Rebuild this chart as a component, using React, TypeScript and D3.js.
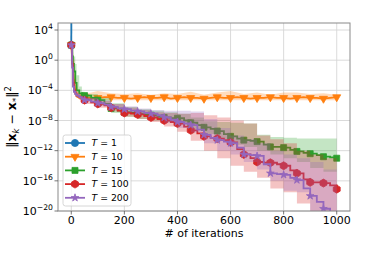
import React from 'react';
import * as d3 from 'd3';

// iterations at which the mean curves are sampled (log10 of ||x_k - x*||^2)
const lineIters = [0, 3, 6, 10, 15, 20, 30, 40, 50, 75, 100, 125, 150, 175, 200, 225, 250, 275, 300, 325, 350, 375, 400, 425, 450, 475, 500, 525, 550, 575, 600, 625, 650, 675, 700, 725, 750, 775, 800, 825, 850, 875, 900, 925, 950, 975, 1000];

const blueIters = [0, 1];
const blueLog = [2, 10];

const orangeLog = [2, 0.5, -1, -2.5, -4.0, -4.8, -5.0, -5.0,
  -4.9, -5.0, -5.0, -4.9, -4.9, -5.0, -5.0, -5.1, -5.0, -4.9,
  -5.0, -5.0, -4.9, -5.1, -5.0, -4.9, -5.0, -5.0, -5.1, -5.0,
  -4.9, -5.0, -5.0, -4.9, -5.0, -5.1, -5.0, -5.0, -4.9, -5.0,
  -5.0, -5.1, -5.0, -4.9, -5.0, -5.0, -5.1, -5.0, -4.9];

const greenLog = [2, 0.5, -0.5, -1.5, -3.0, -4.0, -4.4, -4.6,
  -4.7, -5.0, -5.3, -5.8, -6.4, -6.7, -6.9, -7.0, -7.1, -7.2,
  -7.3, -7.5, -7.6, -7.7, -7.7, -8.0, -8.3, -8.6, -8.9, -9.1,
  -9.4, -9.8, -10.1, -10.4, -10.6, -10.7, -10.8, -11.2, -11.5, -11.5,
  -11.6, -11.9, -12.1, -12.3, -12.4, -12.6, -12.8, -12.9, -13.0];

const redLog = [2, -0.5, -3.0, -4.0, -4.4, -4.7, -4.9, -5.1,
  -5.3, -5.6, -5.8, -6.0, -6.3, -6.7, -7.0, -7.1, -7.2, -7.4,
  -7.6, -7.8, -8.0, -8.2, -8.4, -8.8, -9.3, -9.7, -10.1, -10.3,
  -10.4, -10.6, -10.9, -11.8, -12.5, -13.0, -13.5, -13.6, -13.6, -13.8,
  -14.0, -14.6, -15.0, -15.8, -16.2, -16.2, -16.3, -16.6, -17.1];

const purpleLog = [2, -1.0, -3.5, -4.2, -4.5, -4.7, -4.9, -5.1,
  -5.3, -5.5, -5.7, -5.9, -6.2, -6.4, -6.5, -6.7, -6.8, -7.0,
  -7.1, -7.3, -7.6, -7.9, -8.2, -8.4, -8.6, -9.2, -9.9, -10.3,
  -10.6, -10.8, -11.0, -11.6, -12.5, -12.6, -12.7, -13.8, -15.0, -15.1,
  -15.2, -15.6, -15.9, -17.0, -18.0, -18.8, -19.7, -20.2, -20.5];

// min / max envelopes over runs
const bandIters = [0, 5, 10, 15, 20, 30, 40, 50, 100, 150, 200, 250, 300, 350, 400, 450, 500, 550, 600, 650, 700, 750, 800, 850, 900, 950, 1000];

const orangeLo = [2, 0, -2, -3.5, -4.8, -5.2, -5.3, -5.3, -5.3, -5.3, -5.3, -5.3, -5.3, -5.3, -5.3, -5.3, -5.3, -5.3, -5.3, -5.3, -5.3, -5.3, -5.3, -5.3, -5.3, -5.3, -5.3];
const orangeHi = [2, 1.5, 0.5, -1, -3, -4.3, -4.4, -4.5, -4.1, -4.4, -4.5, -4.4, -4.6, -4.4, -4.5, -4.2, -4.6, -4.3, -4.1, -4.5, -4.3, -4.6, -4.3, -4.3, -4.5, -4.4, -4.6];

const greenLo = [2, 0, -1.5, -3, -4.3, -5, -5.2, -5.3, -6.0, -7.0, -7.5, -7.8, -8.0, -8.2, -8.5, -9.2, -9.8, -10.5, -11.2, -11.5, -12.0, -12.5, -13.0, -13.5, -14.3, -14.8, -15.1];
const greenHi = [2, 1.5, 0.5, -0.5, -2, -3.5, -4.2, -4.5, -5.0, -5.7, -6.2, -6.5, -6.7, -6.9, -7.1, -7.6, -8.1, -8.2, -8.3, -8.4, -9.9, -10.2, -10.3, -10.4, -10.4, -10.4, -10.4];

const redLo = [2, -2, -3.8, -4.4, -4.8, -5.2, -5.5, -5.8, -6.3, -6.8, -7.5, -7.8, -8.2, -8.8, -9.5, -10.7, -12.0, -13.0, -14.0, -14.8, -15.6, -17.0, -17.5, -19.0, -20.5, -20.5, -20.5];
const redHi = [2, 0, -2.5, -3.8, -4.3, -4.7, -4.9, -5.0, -5.4, -5.8, -6.3, -6.6, -6.9, -7.0, -7.1, -7.0, -7.3, -7.6, -8.0, -8.4, -10.0, -10.5, -11.0, -12.0, -12.5, -13.0, -13.5];

const purpleLo = [2, -3, -4.2, -4.6, -4.9, -5.1, -5.3, -5.5, -6.0, -6.5, -6.9, -7.2, -7.6, -8.3, -9.0, -9.6, -11.0, -12.0, -12.5, -13.5, -14.5, -16.0, -17.3, -17.5, -20.5, -20.5, -20.5];
const purpleHi = [2, -0.5, -3, -4.0, -4.4, -4.7, -4.9, -5.0, -5.3, -5.8, -6.1, -6.4, -6.6, -6.7, -6.7, -6.8, -7.8, -9.0, -10.0, -10.5, -11.0, -12.0, -12.5, -13.0, -13.5, -14.5, -15.5];

const legendLabels = ['1', '10', '15', '100', '200'];
const xTicks = [0, 200, 400, 600, 800, 1000];
const yTickExp = [4, 0, -4, -8, -12, -16, -20];

const W = 374;
const H = 262;
const m = { left: 58, right: 350, top: 23, bottom: 211 };

const hexagon = (r: number) => {
  const pts = d3.range(6).map(i => {
    const a = (Math.PI / 3) * i - Math.PI / 2;
    return [r * Math.cos(a), r * Math.sin(a)];
  });
  return 'M' + pts.map(p => p.join(',')).join('L') + 'Z';
};

const markerPath = (kind: string) => {
  if (kind === 'circle') return d3.symbol(d3.symbolCircle, 40)()!;
  if (kind === 'tri') return d3.symbol(d3.symbolTriangle, 28)()!;
  if (kind === 'square') return d3.symbol(d3.symbolSquare, 36)()!;
  if (kind === 'star') return d3.symbol(d3.symbolStar, 18)()!;
  return hexagon(4);
};

export default function App() {
  const x = d3.scaleLinear().domain([-50, 1050]).range([m.left, m.right]);
  const y = d3.scaleLog().domain([1e-20, Math.pow(10, 4.93)]).range([m.bottom, m.top]);
  const py = (l: number) => y(Math.pow(10, l));

  const series = [
    { color: '#1f77b4', iters: blueIters, vals: blueLog, lo: null, hi: null, marker: 'circle', rot: 0 },
    { color: '#ff7f0e', iters: lineIters, vals: orangeLog, lo: orangeLo, hi: orangeHi, marker: 'tri', rot: 180, smooth: true },
    { color: '#2ca02c', iters: lineIters, vals: greenLog, lo: greenLo, hi: greenHi, marker: 'square', rot: 0 },
    { color: '#d62728', iters: lineIters, vals: redLog, lo: redLo, hi: redHi, marker: 'hex', rot: 0 },
    { color: '#9467bd', iters: lineIters, vals: purpleLog, lo: purpleLo, hi: purpleHi, marker: 'star', rot: 0 },
  ];

  const font = 'DejaVu Sans, sans-serif';

  return (
    <svg width={W} height={H} style={{ position: 'absolute', left: 0, top: 0, background: '#fff' }} fontFamily={font}>
      <defs>
        <clipPath id="plot">
          <rect x={m.left} y={m.top} width={m.right - m.left} height={m.bottom - m.top} />
        </clipPath>
      </defs>
      <rect width={W} height={H} fill="#fff" />

      {/* grid */}
      {xTicks.map(t => (
        <line key={'gx' + t} x1={x(t)} x2={x(t)} y1={m.top} y2={m.bottom} stroke="#d6d6d6" strokeWidth={0.9} />
      ))}
      {yTickExp.map(e => (
        <line key={'gy' + e} x1={m.left} x2={m.right} y1={py(e)} y2={py(e)} stroke="#d6d6d6" strokeWidth={0.9} />
      ))}

      <g clipPath="url(#plot)">
        {series.map((s, i) => {
          const band = s.lo && s.hi
            ? d3.area<number>()
                .x(j => x(bandIters[j]))
                .y0(j => py(s.lo![j]))
                .y1(j => py(s.hi![j]))
                .curve(s.smooth ? d3.curveLinear : d3.curveStepAfter)(d3.range(bandIters.length))
            : null;
          const line = d3.line<number>()
            .x(j => x(s.iters[j]))
            .y(j => py(s.vals[j]))
            .curve(s.smooth || s.iters.length < 3 ? d3.curveLinear : d3.curveStepAfter)(d3.range(s.iters.length));
          return (
            <g key={i}>
              {band && <path d={band} fill={s.color} fillOpacity={0.28} stroke="none" />}
              <path d={line!} fill="none" stroke={s.color} strokeWidth={1.8} />
              {s.iters.map((it, j) => it % 50 === 0 ? (
                <path key={j} d={markerPath(s.marker)}
                  transform={`translate(${x(it)},${py(s.vals[j])}) rotate(${s.rot})`}
                  fill={s.color} stroke={s.color} strokeWidth={0.8} />
              ) : null)}
            </g>
          );
        })}
      </g>

      {/* spines */}
      <rect x={m.left} y={m.top} width={m.right - m.left} height={m.bottom - m.top} fill="none" stroke="#8a8a8a" strokeWidth={1} />

      {/* x ticks */}
      {xTicks.map(t => (
        <g key={'xt' + t}>
          <line x1={x(t)} x2={x(t)} y1={m.bottom} y2={m.bottom + 3.5} stroke="#555" strokeWidth={0.8} />
          <text x={x(t)} y={224} textAnchor="middle" fontSize={11} fill="#000">{t}</text>
        </g>
      ))}
      {/* y ticks */}
      {yTickExp.map(e => (
        <g key={'yt' + e}>
          <line x1={m.left - 3.5} x2={m.left} y1={py(e)} y2={py(e)} stroke="#555" strokeWidth={0.8} />
          <text x={53} y={py(e) + 4} textAnchor="end" fontSize={11} fill="#000">
            10<tspan fontSize={7.7} dy={-5}>{e < 0 ? '\u2212' + Math.abs(e) : e}</tspan>
          </text>
        </g>
      ))}

      <text x={(m.left + m.right) / 2} y={236.5} textAnchor="middle" fontSize={11} fill="#000"># of iterations</text>

      <text transform={`translate(16,117) rotate(-90)`} textAnchor="middle" fontSize={12.5} fill="#000">
        {'\u2016'}<tspan fontWeight="bold">x</tspan><tspan fontSize={8.5} dy={2.5} fontStyle="italic">k</tspan>
        <tspan dy={-2.5}>{' \u2212 '}</tspan><tspan fontWeight="bold">x</tspan><tspan fontSize={8.5} dy={2.5}>*</tspan>
        <tspan dy={-2.5}>{'\u2016'}</tspan><tspan fontSize={8.5} dy={-5.5}>2</tspan>
      </text>

      {/* legend */}
      <g>
        <rect x={63} y={135} width={68} height={71} rx={2.5} fill="#fff" fillOpacity={0.8} stroke="#cccccc" strokeWidth={0.8} />
        {series.map((s, i) => {
          const ly = 143 + i * 13.7;
          return (
            <g key={'lg' + i}>
              <line x1={65} x2={85} y1={ly} y2={ly} stroke={s.color} strokeWidth={1.8} />
              <path d={markerPath(s.marker)} transform={`translate(75,${ly}) rotate(${s.rot})`} fill={s.color} stroke={s.color} strokeWidth={0.8} />
              <text x={91.5} y={ly + 3.3} fontSize={9.3} fill="#000">
                <tspan fontStyle="italic">T</tspan>{' = ' + legendLabels[i]}
              </text>
            </g>
          );
        })}
      </g>
    </svg>
  );
}
